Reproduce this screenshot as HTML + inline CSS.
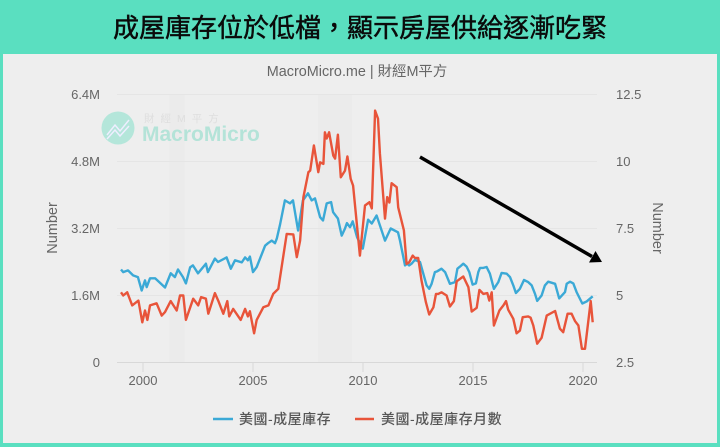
<!DOCTYPE html>
<html lang="zh-Hant">
<head>
<meta charset="utf-8">
<title>成屋庫存位於低檔</title>
<style>
html,body{margin:0;padding:0;background:#5adfc0;}
#page{position:relative;width:720px;height:447px;overflow:hidden;background:#5adfc0;font-family:"Liberation Sans","Noto Sans CJK TC",sans-serif;}
#title{position:absolute;left:0;top:9px;width:720px;text-align:center;font-size:26px;line-height:38px;font-weight:400;-webkit-text-stroke:0.45px #0a0a0a;color:#0a0a0a;font-family:"Liberation Sans","Noto Sans CJK TC",sans-serif;letter-spacing:0;}
#card{position:absolute;left:3px;top:54px;width:714px;height:389px;background:#eeeeee;}
svg{position:absolute;left:0;top:0;}
text{font-family:"Liberation Sans","Noto Sans CJK TC",sans-serif;}
</style>
</head>
<body>
<div id="page">
  <div id="title">成屋庫存位於低檔，顯示房屋供給逐漸吃緊</div>
  <div id="card"></div>
  <svg id="chart" width="720" height="447" viewBox="0 0 720 447">
    <text x="357" y="76" text-anchor="middle" font-size="14.4" fill="#666">MacroMicro.me | 財經M平方</text>
    <g id="bands"></g>
    <g id="grid"></g>
    <g>
      <circle cx="118" cy="128" r="16.5" fill="#b4e6da"></circle>
      <path d="M107 135 L115 125 L120 131 L129 120 M107 139 L115 130 L120 136 L129 126" fill="none" stroke="#eef" stroke-width="1.5"></path>
      <text x="144" y="122" font-size="10.5" letter-spacing="6" fill="#dedede">財經M平方</text>
      <text x="142" y="141" font-size="21" font-weight="bold" fill="#b4e3d8">MacroMicro</text>
    </g>
    <g id="series"></g>
    <g id="labels"></g>
    <text transform="translate(57,228) rotate(-90)" text-anchor="middle" font-size="14.5" fill="#666">Number</text>
    <text transform="translate(653,228) rotate(90)" text-anchor="middle" font-size="14.5" fill="#666">Number</text>
    <g>
      <line x1="420" y1="157" x2="592" y2="256.5" stroke="#000" stroke-width="3.5"></line>
      <polygon points="602,262 589,262.5 595.5,251" fill="#000"></polygon>
    </g>
    <g>
      <g>
        <line x1="213" y1="419" x2="233" y2="419" stroke="#3ba9d6" stroke-width="2.5"></line>
        <text x="239" y="424" font-size="14" letter-spacing="0.5" font-weight="500" fill="#555">美國-成屋庫存</text>
      </g>
      <g>
        <line x1="355" y1="419" x2="374" y2="419" stroke="#e8543a" stroke-width="2.5"></line>
        <text x="381" y="424" font-size="14" letter-spacing="0.5" font-weight="500" fill="#555">美國-成屋庫存月數</text>
      </g>
    </g>
  </svg>
</div>
<script>
const xTickYears = [2000, 2005, 2010, 2015, 2020];
const leftTickValues = [0, 1.6, 3.2, 4.8, 6.4];
const leftTickLabels = ["0", "1.6M", "3.2M", "4.8M", "6.4M"];
const rightTickValues = [2.5, 5, 7.5, 10, 12.5];
const rightTickLabels = ["2.5", "5", "7.5", "10", "12.5"];
const recessionStarts = [2001.2, 2007.95];
const recessionEnds = [2001.9, 2009.5];

const inventoryDates = [1999,1999.1,1999.32,1999.55,1999.77,1999.94,2000.09,2000.17,2000.32,2000.55,2001,2001.26,2001.45,2001.59,2001.82,2001.95,2002.14,2002.27,2002.5,2002.86,2002.95,2003.27,2003.41,2003.8,2003.99,2004.18,2004.49,2004.64,2004.77,2004.86,2005,2005.17,2005.55,2005.68,2005.85,2006,2006.08,2006.23,2006.45,2006.68,2006.82,2007.05,2007.27,2007.5,2007.67,2007.82,2008.05,2008.18,2008.35,2008.55,2008.64,2008.86,2009.03,2009.18,2009.27,2009.41,2009.53,2009.73,2009.99,2010.23,2010.4,2010.62,2011,2011.26,2011.59,2011.68,2011.91,2012.01,2012.1,2012.21,2012.36,2012.59,2012.74,2012.89,2013.01,2013.12,2013.27,2013.38,2013.57,2013.73,2013.95,2014.18,2014.29,2014.41,2014.56,2014.71,2014.83,2014.98,2015.13,2015.24,2015.32,2015.47,2015.62,2015.77,2015.95,2016.15,2016.3,2016.53,2016.68,2016.83,2016.95,2017.13,2017.32,2017.51,2017.67,2017.82,2017.92,2018.12,2018.27,2018.42,2018.73,2018.92,2019.18,2019.26,2019.41,2019.56,2019.71,2019.97,2020.17,2020.44];
const inventoryValues = [2.22,2.16,2.2,2.08,2.04,1.72,1.96,1.8,2.01,2.01,1.79,2.13,2.04,2.22,2.04,1.89,2.27,2.32,2.13,2.36,2.16,2.48,2.4,2.51,2.24,2.44,2.39,2.51,2.44,2.53,2.16,2.28,2.79,2.85,2.91,2.85,2.96,3.3,3.87,3.8,3.87,3.15,3.87,4.04,3.87,3.92,3.47,3.39,3.8,3.83,3.59,3.44,3.03,3.2,3.33,3.23,3.37,2.99,2.72,3.41,3.32,3.51,2.91,3.2,3.11,2.91,2.32,2.36,2.32,2.36,2.45,2.4,2.12,1.84,1.76,1.88,2.16,2.18,2.24,2.16,1.88,1.92,2.24,2.29,2.36,2.29,2.16,1.86,1.89,2.16,2.26,2.26,2.28,2.12,1.76,1.92,2.14,2.12,2.04,1.84,1.66,1.76,1.97,1.92,1.84,1.64,1.47,1.6,1.84,1.93,1.88,1.53,1.68,1.88,1.93,1.89,1.68,1.41,1.46,1.58];

const monthsDates = [1999,1999.1,1999.28,1999.51,1999.79,1999.97,2000.09,2000.2,2000.32,2000.62,2000.85,2001,2001.26,2001.53,2001.68,2001.83,2001.95,2002.28,2002.51,2002.64,2002.86,2002.97,2003.27,2003.42,2003.65,2003.83,2003.92,2004.1,2004.44,2004.64,2004.77,2004.86,2005.05,2005.17,2005.47,2005.7,2005.92,2006.15,2006.53,2006.83,2006.99,2007.14,2007.29,2007.52,2007.6,2007.77,2007.97,2008.05,2008.2,2008.27,2008.35,2008.46,2008.65,2008.73,2008.86,2008.99,2009.18,2009.29,2009.44,2009.55,2009.86,2010.09,2010.29,2010.4,2010.55,2010.68,2010.77,2011,2011.1,2011.2,2011.3,2011.53,2011.6,2011.86,2011.98,2012.1,2012.26,2012.36,2012.51,2012.66,2012.86,2013.01,2013.2,2013.32,2013.42,2013.57,2013.68,2013.8,2013.95,2014.13,2014.26,2014.41,2014.56,2014.79,2014.94,2015.17,2015.29,2015.47,2015.65,2015.74,2015.85,2015.95,2016.2,2016.38,2016.5,2016.6,2016.83,2016.98,2017.13,2017.26,2017.51,2017.62,2017.74,2017.92,2018.12,2018.35,2018.73,2018.95,2019.1,2019.3,2019.48,2019.64,2019.79,2019.95,2020.09,2020.35,2020.44];
const monthsValues = [5.12,5,5.12,4.63,4.81,4,4.44,4.09,4.63,4.71,4.25,4.38,4.79,4.44,5,5,4.09,4.88,4.63,4.94,4.88,4.32,5.09,4.81,4.32,4.79,4.22,4.5,4.09,4.5,4.22,4.41,3.59,4.09,4.56,4.63,5.06,5.25,7.3,7.28,6.43,7.05,8.67,9.6,9.66,10.6,9.6,9.97,9.91,11.09,10.86,11.09,10.22,10.11,11,9.41,9.66,10.19,9.35,9.1,6.49,8.36,8.48,8.25,11.9,11.6,10.3,7.87,8.67,8.47,9.19,9.04,8.29,7.43,6.18,6.24,6.49,6.4,6.4,5.56,4.75,4.29,4.56,5.06,5.06,5.12,5.06,5,4.59,4.79,5.53,5.62,5.71,5.31,4.4,4.54,5.21,5.06,5.09,4.81,5.12,3.88,4.44,4.63,4.79,4.47,4.13,3.59,3.69,4.19,4.22,4.17,3.88,3.2,3.42,4.25,4.42,3.76,3.63,4.32,4.32,4.04,3.88,3.01,3.01,4.79,4];

const NS = 'http://www.w3.org/2000/svg';
function xScale(year) { return 143 + (year - 2000) * 22; }
function yLeft(v) { return 362.5 - v / 6.4 * 268; }
function yRight(v) { return 362.5 - (v - 2.5) / 10 * 268; }
function make(tag, attrs, parent) {
  const el = document.createElementNS(NS, tag);
  for (const k in attrs) el.setAttribute(k, attrs[k]);
  parent.appendChild(el);
  return el;
}
const bandsG = document.getElementById('bands');
const gridG = document.getElementById('grid');
const seriesG = document.getElementById('series');
const labelsG = document.getElementById('labels');

recessionStarts.forEach(function (s, i) {
  const b = make('rect', {x: xScale(s), y: 94, width: xScale(recessionEnds[i]) - xScale(s), height: 268, fill: '#ebebeb'}, bandsG);
  
  
});
leftTickValues.forEach(function (v, i) {
  const y = yLeft(v);
  const g = make('line', {x1: 117, x2: 597, y1: y, y2: y, stroke: i === 0 ? '#d8d8d8' : '#e5e5e5', 'stroke-width': 1}, gridG);
  
  
  const t = make('text', {x: 100, y: y + 4.5, 'text-anchor': 'end', 'font-size': 13, fill: '#666'}, labelsG);
  t.textContent = leftTickLabels[i];
  
  
});
rightTickValues.forEach(function (v, i) {
  const t = make('text', {x: 616, y: yRight(v) + 4.5, 'font-size': 13, fill: '#666'}, labelsG);
  t.textContent = rightTickLabels[i];
  
  
});
xTickYears.forEach(function (yr) {
  const x = xScale(yr);
  const k = make('line', {x1: x, x2: x, y1: 362.5, y2: 372, stroke: '#d8d8d8', 'stroke-width': 1}, gridG);
  
  
  const t = make('text', {x: x, y: 385, 'text-anchor': 'middle', 'font-size': 13, fill: '#666'}, labelsG);
  t.textContent = String(yr);
  
  
});
function linePath(dates, values, yFn) {
  return dates.map(function (d, i) {
    return (i ? 'L' : 'M') + xScale(d).toFixed(1) + ' ' + yFn(values[i]).toFixed(1);
  }).join(' ');
}
const inventoryLine = make('path', {d: linePath(inventoryDates, inventoryValues, yLeft), fill: 'none', stroke: '#3ba9d6', 'stroke-width': 2.4, 'stroke-linejoin': 'round'}, seriesG);


const monthsLine = make('path', {d: linePath(monthsDates, monthsValues, yRight), fill: 'none', stroke: '#e8543a', 'stroke-width': 2.4, 'stroke-linejoin': 'round'}, seriesG);


</script>
</body>
</html>
